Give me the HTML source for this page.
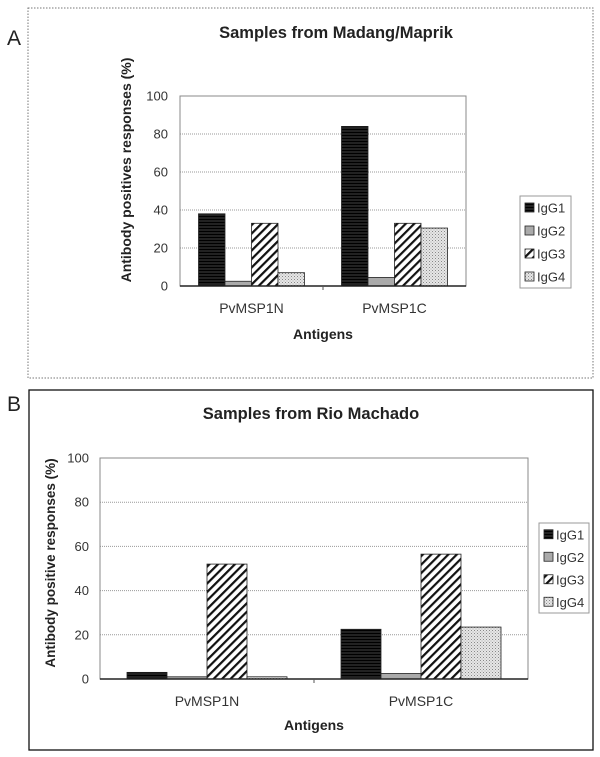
<!DOCTYPE html>
<html><head><meta charset="utf-8">
<style>
body{margin:0;background:#fff;}
svg{display:block;font-family:"Liberation Sans",Arial,sans-serif;}
</style></head>
<body>
<svg id="fig" width="600" height="757" viewBox="0 0 600 757">
<defs>
<pattern id="p1" width="4" height="3" patternUnits="userSpaceOnUse"><rect width="4" height="3" fill="#222"/><line x1="0" y1="0.5" x2="4" y2="0.5" stroke="#000" stroke-width="1"/></pattern>
<pattern id="p3" width="6" height="6" patternUnits="userSpaceOnUse" patternTransform="rotate(45)"><rect width="6" height="6" fill="#fff"/><rect width="2.2" height="6" fill="#111"/></pattern>
<pattern id="p4" width="3" height="3" patternUnits="userSpaceOnUse"><rect width="3" height="3" fill="#e6e6e6"/><rect width="1" height="1" fill="#888"/><rect x="1.5" y="1.5" width="1" height="1" fill="#aaa"/></pattern>
</defs>
</svg>
<script>
const categories = ["PvMSP1N", "PvMSP1C"];
const series = ["IgG1", "IgG2", "IgG3", "IgG4"];
const ticks = [0, 20, 40, 60, 80, 100];
const valuesA_IgG1 = [38, 84];
const valuesA_IgG2 = [2.5, 4.5];
const valuesA_IgG3 = [33, 33];
const valuesA_IgG4 = [7, 30.5];
const valuesB_IgG1 = [3, 22.5];
const valuesB_IgG2 = [1, 2.5];
const valuesB_IgG3 = [52, 56.5];
const valuesB_IgG4 = [1, 23.5];

const fills = ["url(#p1)", "#aaa", "url(#p3)", "url(#p4)"];
const NS = "http://www.w3.org/2000/svg";
const svg = document.getElementById("fig");
function mk(tag, attrs, parent, text){
  const e = document.createElementNS(NS, tag);
  for (const k in attrs) e.setAttribute(k, attrs[k]);
  if (text !== undefined) e.textContent = text;
  (parent || svg).appendChild(e);
  return e;
}

function panel(cfg){
  const g = mk("g", {});
  
  
  const fr = mk("rect", {x:cfg.frame[0], y:cfg.frame[1], width:cfg.frame[2], height:cfg.frame[3], fill:"none", stroke: cfg.dotted?"#777":"#111", "stroke-width": cfg.dotted?1:1.3, "stroke-dasharray": cfg.dotted?"1.5,1.5":"none"}, g);
  
  
  const lt = mk("text", {x:14, y:cfg.letterY, "font-size":21, fill:"#222", "text-anchor":"middle"}, g, cfg.letter);
  
  
  const tt = mk("text", {x:cfg.titleX, y:cfg.titleY, "font-size":16.5, "font-weight":"bold", fill:"#222", "text-anchor":"middle"}, g, cfg.title);
  
  
  const [L, T, R, B] = cfg.plot;
  const y = v => B - (v/100)*(B-T);
  const catW = (R-L)/categories.length;
  const x = i => L + catW*(i+0.5);
  ticks.forEach(t => {
    if (t > 0 && t < 100) {
      const gl = mk("line", {x1:L, x2:R, y1:y(t), y2:y(t), stroke:"#999", "stroke-width":1, "stroke-dasharray":"1,1"}, g);
      
      
    }
    const tl = mk("text", {x:cfg.tickX, y:y(t)+4.5, "font-size":13, fill:"#333", "text-anchor":"end"}, g, String(t));
    
    
  });
  const pa = mk("rect", {x:L, y:T, width:R-L, height:B-T, fill:"none", stroke:"#888", "stroke-width":1}, g);
  
  
  categories.forEach((c, i) => {
    const start = x(i) - cfg.barW*series.length/2;
    cfg.vals.forEach((arr, s) => {
      const r = mk("rect", {x:start + s*cfg.barW, y:y(arr[i]), width:cfg.barW, height:B - y(arr[i]), fill:fills[s], stroke:"#222", "stroke-width":0.8}, g);
      
      
    });
    const cl = mk("text", {x:x(i), y:cfg.catY, "font-size":14, fill:"#333", "text-anchor":"middle"}, g, c);
    
    
  });
  const ax = mk("line", {x1:L, x2:R, y1:B, y2:B, stroke:"#222", "stroke-width":1.5}, g);
  
  
  const mt = mk("line", {x1:L+catW, x2:L+catW, y1:B, y2:B+4, stroke:"#555"}, g);
  
  
  const xt = mk("text", {x:(L+R)/2, y:cfg.axY, "font-size":14, "font-weight":"bold", fill:"#222", "text-anchor":"middle"}, g, "Antigens");
  
  
  const yt = mk("text", {x:0, y:0, "font-size":cfg.yfs, "font-weight":"bold", fill:"#222", "text-anchor":"middle", transform:`translate(${cfg.ylab[0]},${cfg.ylab[1]}) rotate(-90)`}, g, cfg.ytitle);
  
  
  const [lx, ly, lw, lh] = cfg.legend;
  const lg = mk("rect", {x:lx, y:ly, width:lw, height:lh, fill:"#fff", stroke:"#999"}, g);
  
  
  series.forEach((s, k) => {
    const ey = ly + lh*(k+0.5)/series.length;
    const sw = mk("rect", {x:lx+5, y:ey-4.5, width:9, height:9, fill:fills[k], stroke:"#222", "stroke-width":0.8}, g);
    
    
    const et = mk("text", {x:lx+17, y:ey+5, "font-size":13, fill:"#333"}, g, s);
    
    
  });
}

panel({name:"panel-a", letter:"A", letterY:45, frame:[28,8,565,370], dotted:true,
  title:"Samples from Madang/Maprik", titleX:336, titleY:38,
  plot:[180,96,466,286], barW:26.5, tickX:168, catY:313, axY:339,
  ytitle:"Antibody positives responses (%)", ylab:[131,170], yfs:14,
  legend:[520,196,51,92],
  vals:[valuesA_IgG1, valuesA_IgG2, valuesA_IgG3, valuesA_IgG4]});
panel({name:"panel-b", letter:"B", letterY:411, frame:[29,390,564,360], dotted:false,
  title:"Samples from Rio Machado", titleX:311, titleY:419,
  plot:[100,458,528,679], barW:40, tickX:89, catY:706, axY:730,
  ytitle:"Antibody positive responses (%)", ylab:[55,563], yfs:13.5,
  legend:[539,523,50,90],
  vals:[valuesB_IgG1, valuesB_IgG2, valuesB_IgG3, valuesB_IgG4]});
</script>
</body></html>
